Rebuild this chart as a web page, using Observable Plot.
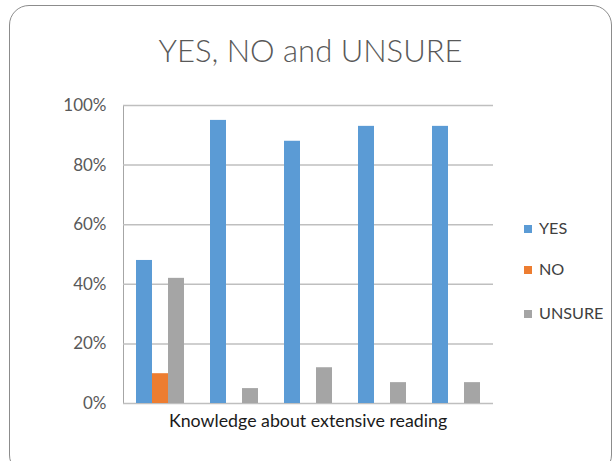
<!DOCTYPE html>
<html>
<head>
<meta charset="utf-8">
<script src="https://cdn.jsdelivr.net/npm/d3@7"></script>
<script src="https://cdn.jsdelivr.net/npm/@observablehq/plot@0.6"></script>
<style>
  html, body { margin: 0; padding: 0; background: #fff; }
  #wrap { position: relative; width: 616px; height: 461px; overflow: hidden; font-family: Lato, sans-serif; }
  #frame { position: absolute; left: 9px; top: 5px; width: 603px; height: 470px; border: 1.5px solid #8c8c8c; border-radius: 20px; box-sizing: border-box; }
  #title { position: absolute; left: 9px; width: 603px; top: 30px; text-align: center; font-size: 31px; font-weight: 300; color: #595959; line-height: 40px; }
  #chart { position: absolute; left: 0; top: 0; }
  #xlabel { position: absolute; left: 123px; width: 370px; top: 409px; text-align: center; font-size: 17.8px; color: #1a1a1a; line-height: 22px; }
  #legend { position: absolute; left: 524px; top: 0; }
  .item { position: absolute; left: 0; white-space: nowrap; font-size: 16.2px; color: #404040; line-height: 20px; }
  .sw { display: inline-block; width: 8px; height: 8px; margin-right: 7px; vertical-align: 1px; }
  .chart g[aria-label="y-axis tick label"] { fill: #595959; }
</style>
</head>
<body>
<div id="wrap">
  <div id="frame"></div>
  <div id="title">YES, NO and UNSURE</div>
  <div id="chart"></div>
  <div id="xlabel">Knowledge about extensive reading</div>
  <div id="legend"></div>
</div>
<script>
const groups = ["1", "2", "3", "4", "5"];
const series = ["YES", "NO", "UNSURE"];
const yes = [0.48, 0.95, 0.88, 0.93, 0.93];
const no = [0.10, 0, 0, 0, 0];
const unsure = [0.42, 0.05, 0.12, 0.07, 0.07];
const yTicks = [0, 0.2, 0.4, 0.6, 0.8, 1];
const colors = ["#5b9bd5", "#ed7d31", "#a5a5a5"];

const values = {YES: yes, NO: no, UNSURE: unsure};
const rows = [];
groups.forEach((g, i) => series.forEach(s => rows.push({group: g, series: s, value: values[s][i]})));

const chart = Plot.plot({
  width: 616,
  height: 461,
  marginLeft: 123,
  marginRight: 123,
  marginTop: 105,
  marginBottom: 58,
  className: "chart",
  style: {fontFamily: "Lato, sans-serif", fontSize: "17px", color: "#a6a6a6", background: "transparent"},
  fx: {domain: groups, padding: 0, axis: null},
  x: {domain: series, paddingInner: 0, paddingOuter: 0.72, axis: null},
  y: {domain: [0, 1], ticks: yTicks, tickFormat: d3.format(".0%"), tickSize: 0, tickPadding: 17, line: true, label: null},
  color: {domain: series, range: colors},
  marks: [
    Plot.gridY(yTicks, {stroke: "#bfbfbf", strokeOpacity: 1, strokeWidth: 1.5}),
    Plot.barY(rows, {fx: "group", x: "series", y: "value", fill: "series"})
  ]
});
document.getElementById("chart").appendChild(chart);

const legendTops = [218, 259, 303];
const legend = document.getElementById("legend");
series.forEach((s, i) => {
  const div = document.createElement("div");
  div.className = "item";
  div.style.top = legendTops[i] + "px";
  div.innerHTML = `<span class="sw" style="background:${colors[i]}"></span>${s}`;
  legend.appendChild(div);
});
</script>
</body>
</html>
